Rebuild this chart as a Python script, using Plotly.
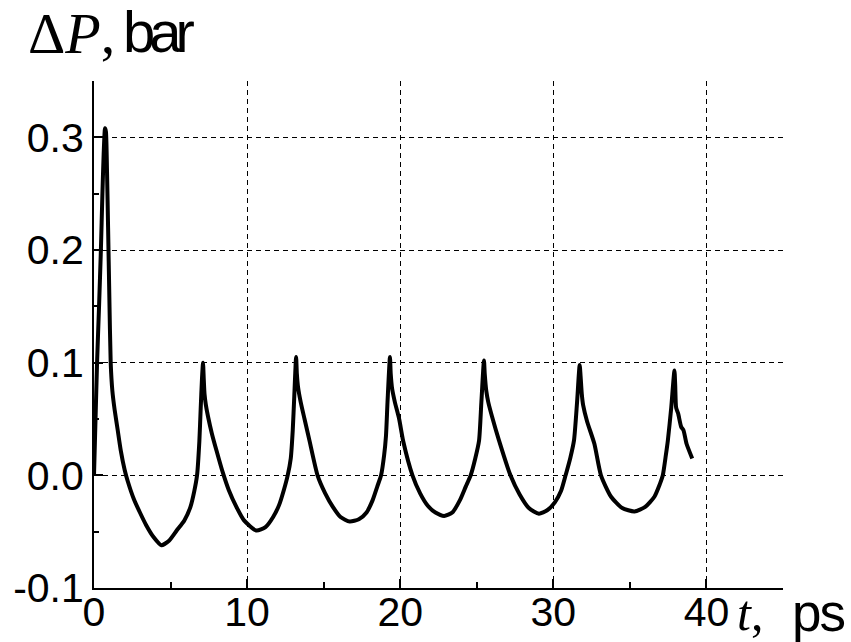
import plotly.graph_objects as go

# time, ps
t_ps = [
    0.0, 0.1, 0.2, 0.33, 0.45, 0.55, 0.63, 0.72, 0.78, 0.85, 0.92, 1.0, 1.09, 1.2, 1.35,
    1.55, 1.75, 2.0, 2.2, 2.6, 3.0, 3.4, 3.9, 4.4, 4.9, 5.4, 5.9, 6.3, 6.55, 6.73, 6.88,
    6.97, 7.05, 7.12,
    7.17, 7.22, 7.3, 7.45, 7.7, 8.0, 8.4, 8.8, 9.3, 9.8, 10.6, 11.2, 11.7, 12.1, 12.4,
    12.65, 12.85, 12.98, 13.08, 13.2,
    13.25, 13.33, 13.5, 13.75, 14.07, 14.6, 15.1, 15.6, 16.1, 16.7, 17.3, 17.8, 18.2,
    18.5, 18.75, 18.95, 19.07, 19.17, 19.33,
    19.38, 19.47, 19.65, 19.93, 20.2, 20.8, 21.3, 21.8, 22.3, 22.87, 23.4, 23.9, 24.28,
    24.6, 24.9, 25.15, 25.3, 25.47,
    25.52, 25.62, 25.75, 26.0, 26.45, 27.2, 27.8, 28.4, 29.06, 29.6, 30.1, 30.5, 30.8,
    31.1, 31.35, 31.55, 31.72,
    31.78, 31.86, 31.95, 32.2, 32.68, 33.11, 33.77, 34.5, 35.3, 36.0, 36.6, 36.95, 37.15,
    37.35, 37.48, 37.7, 37.91, 37.96, 38.02, 38.15, 38.35, 38.5, 38.7, 39.07,
]
# pressure change, bar
dp_bar = [
    0.0, 0.05, 0.10, 0.15, 0.20, 0.25, 0.285, 0.308, 0.305, 0.27, 0.22, 0.16, 0.10, 0.075, 0.058,
    0.04, 0.022, 0.005, -0.005, -0.021, -0.033, -0.044, -0.055, -0.062, -0.058, -0.049, -0.040, -0.028, -0.014, 0.0, 0.03,
    0.06, 0.085, 0.100,
    0.085, 0.072, 0.063, 0.052, 0.037, 0.022, 0.003, -0.013, -0.028, -0.040, -0.049, -0.046, -0.037, -0.026, -0.013,
    0.0, 0.015, 0.04, 0.07, 0.105,
    0.09, 0.078, 0.065, 0.05, 0.031, 0.0, -0.016, -0.028, -0.037, -0.041, -0.039, -0.033, -0.022,
    -0.01, 0.0, 0.018, 0.035, 0.065, 0.105,
    0.09, 0.077, 0.065, 0.05, 0.03, 0.0, -0.016, -0.027, -0.033, -0.036, -0.033, -0.022, -0.01,
    0.0, 0.015, 0.031, 0.065, 0.102,
    0.09, 0.075, 0.065, 0.052, 0.031, 0.0, -0.017, -0.029, -0.034, -0.031, -0.024, -0.014, 0.0,
    0.015, 0.031, 0.065, 0.098,
    0.088, 0.072, 0.062, 0.048, 0.028, 0.0, -0.019, -0.029, -0.032, -0.028, -0.019, -0.008, 0.0,
    0.018, 0.031, 0.06, 0.093, 0.08, 0.06, 0.055, 0.043, 0.04, 0.028, 0.015,
]

x_ticks = [0, 10, 20, 30, 40]
x_ticktext = ["0", "10", "20", "30", "40"]
y_ticks = [-0.1, 0.0, 0.1, 0.2, 0.3]
y_ticktext = ["-0.1", "0.0", "0.1", "0.2", "0.3"]

W, H = 851, 642
L, R, T, B = 94, 68, 81, 54
pw, ph = W - L - R, H - T - B

def px(x):
    return (x - L) / pw

def py(y):
    return (H - B - y) / ph

fig = go.Figure()
fig.add_trace(go.Scatter(x=t_ps, y=dp_bar, mode="lines",
                         line=dict(color="black", width=4, shape="spline", smoothing=0.6),
                         showlegend=False))

tickfont = dict(family="Liberation Sans, Arial, sans-serif", size=41, color="black")
axis_common = dict(showline=True, linecolor="black", linewidth=2, mirror=False,
                   ticks="inside", ticklen=9, tickwidth=2, tickcolor="black",
                   showgrid=True, gridcolor="black", gridwidth=1, griddash="5px,4px",
                   zeroline=False, tickfont=tickfont, automargin=False)

fig.update_xaxes(range=[0, 45], tickvals=x_ticks, ticktext=x_ticktext,
                 ticklabelstandoff=-13,
                 minor=dict(ticks="inside", ticklen=6, tickwidth=2, tickcolor="black",
                            dtick=5, tick0=0, showgrid=False),
                 **axis_common)
fig.update_yaxes(range=[-0.1, 0.35], tickvals=y_ticks, ticktext=y_ticktext,
                 minor=dict(ticks="inside", ticklen=5, tickwidth=2, tickcolor="black",
                            dtick=0.05, tick0=-0.1, showgrid=False),
                 **axis_common)

serif = "Liberation Serif, Times New Roman, serif"
sans = "Liberation Sans, Arial, sans-serif"
annotations = [
    dict(text="Δ<i>P</i>,", x=px(26), y=py(34), xanchor="left", yanchor="middle",
         font=dict(family=serif, size=58, color="black")),
    dict(text='<span style="letter-spacing:-6px">bar</span>', x=px(121), y=py(32),
         xanchor="left", yanchor="middle",
         font=dict(family=sans, size=58, color="black")),
    dict(text="<i>t</i>,", x=px(735), y=py(613), xanchor="left", yanchor="middle",
         font=dict(family=serif, size=50, color="black")),
    dict(text='<span style="letter-spacing:-2px">ps</span>', x=px(790), y=py(612),
         xanchor="left", yanchor="middle",
         font=dict(family=sans, size=53, color="black")),
]
for a in annotations:
    a.update(xref="paper", yref="paper", showarrow=False)

fig.update_layout(width=W, height=H, margin=dict(l=L, r=R, t=T, b=B),
                  plot_bgcolor="white", paper_bgcolor="white",
                  annotations=annotations)

fig.write_html("out.html")
